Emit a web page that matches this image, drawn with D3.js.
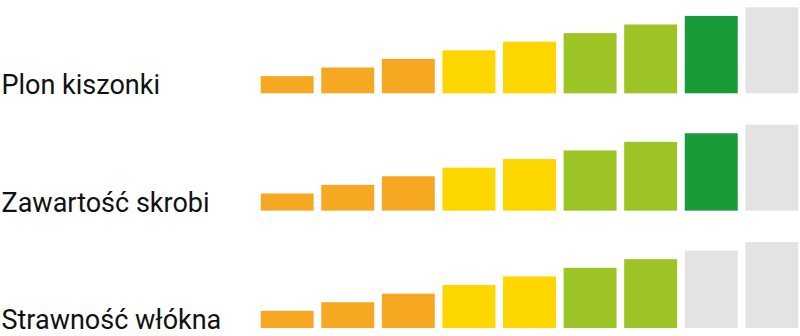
<!DOCTYPE html>
<html>
<head>
<meta charset="utf-8">
<script src="https://cdn.jsdelivr.net/npm/d3@7"></script>
<style>
  body { margin: 0; background: #fff; }
</style>
</head>
<body>
<div id="chart"></div>
<script>
// data
const traits = ["Plon kiszonki", "Zawartość skrobi", "Strawność włókna"];
const steps = [1, 2, 3, 4, 5, 6, 7, 8, 9];
const stepValues = [2, 3, 4, 5, 6, 7, 8, 9, 10];
const scores = [8, 8, 7];
const stepColors = ["#F7A823", "#F7A823", "#F7A823", "#FFD700", "#FFD700",
                    "#9DC425", "#9DC425", "#1A9B3A", "#1A9B3A"];
const emptyColor = "#E3E3E3";

const width = 800, height = 336;

const svg = d3.select("#chart")
    .append("svg")
    .attr("width", width)
    .attr("height", height);

// x for bars inside a row
const x = d3.scaleBand()
    .domain(steps)
    .range([260.7, 798.3])
    .paddingInner(0.126)
    .paddingOuter(0);

// bar height
const h = d3.scaleLinear()
    .domain([0, 10])
    .range([0, 86]);

// baseline for each row
const row = d3.scalePoint()
    .domain(traits)
    .range([93.3, 328]);

const rows = svg.selectAll("g.row")
    .data(traits.map((t, i) => ({ name: t, score: scores[i] })))
    .join("g")
    .attr("class", "row");

rows.append("text")
    .attr("x", 1.5)
    .attr("y", d => row(d.name) + 1)
    .style("font-family", "Roboto, 'Noto Sans', sans-serif")
    .style("font-size", "27px")
    .attr("fill", "#111")
    .text(d => d.name);

rows.selectAll("rect")
    .data(d => steps.map((s, i) => ({ trait: d.name, step: s, value: stepValues[i], on: s <= d.score, i: i })))
    .join("rect")
    .attr("x", d => x(d.step))
    .attr("y", d => row(d.trait) - h(d.value))
    .attr("width", x.bandwidth())
    .attr("height", d => h(d.value))
    .attr("fill", d => d.on ? stepColors[d.i] : emptyColor);
</script>
</body>
</html>
